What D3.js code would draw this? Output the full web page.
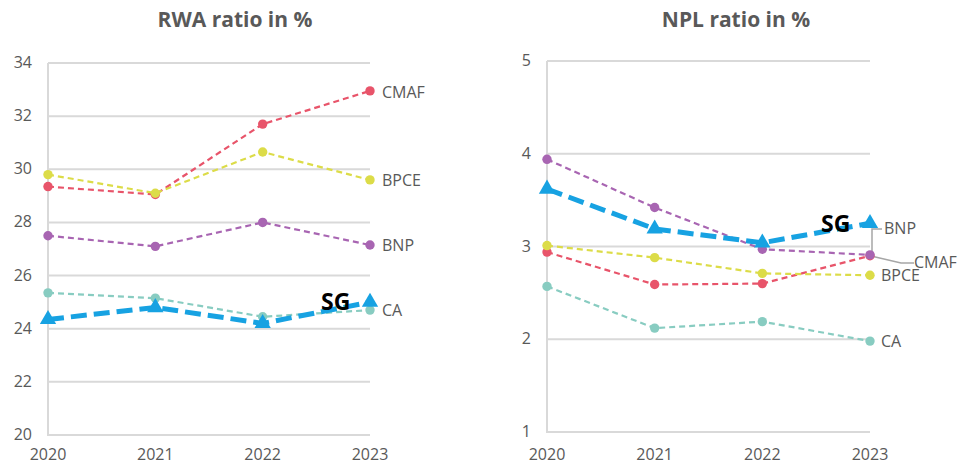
<!DOCTYPE html>
<html>
<head>
<meta charset="utf-8">
<script src="https://cdn.jsdelivr.net/npm/d3@7"></script>
<style>
  body { margin: 0; background: #fff; }
  svg { font-family: "Open Sans", sans-serif; }
</style>
</head>
<body>
<svg id="chart" width="970" height="466"></svg>
<script>
const years = [2020, 2021, 2022, 2023];

const banks = ['CMAF', 'BPCE', 'BNP', 'CA', 'SG'];
const colors = { CMAF: '#e8546a', BPCE: '#dcdc48', BNP: '#a865b2', CA: '#88ccc1', SG: '#17a2e2' };

const rwaCMAF = [29.35, 29.05, 31.7, 32.95];
const rwaBPCE = [29.8, 29.1, 30.65, 29.6];
const rwaBNP = [27.5, 27.1, 28.0, 27.15];
const rwaCA = [25.35, 25.15, 24.45, 24.7];
const rwaSG = [24.35, 24.8, 24.2, 25.0];

const nplCMAF = [2.94, 2.59, 2.6, 2.9];
const nplBPCE = [3.01, 2.88, 2.71, 2.69];
const nplBNP = [3.94, 3.42, 2.97, 2.91];
const nplCA = [2.57, 2.12, 2.19, 1.98];
const nplSG = [3.62, 3.19, 3.04, 3.25];

const rwaTicks = [20, 22, 24, 26, 28, 30, 32, 34];
const nplTicks = [1, 2, 3, 4, 5];

const svg = d3.select('#chart');
const textColor = '#595959';
const gridColor = '#d9d9d9';

function drawPanel(opts) {
    const g = svg.append('g');
    const x = d3.scalePoint().domain(years).range([opts.x0, opts.x1]);
    const y = d3.scaleLinear().domain(opts.domain).range([opts.y0, opts.y1]);

    // title
    g.append('text')
        .attr('x', opts.titleX).attr('y', 27)
        .attr('text-anchor', 'middle')
        .style('font-size', '21px').style('font-weight', 'bold')
        .style('fill', textColor)
        .text(opts.title);

    // gridlines
    g.selectAll('.grid').data(opts.ticks).enter().append('line')
        .attr('x1', opts.x0).attr('x2', opts.x1)
        .attr('y1', d => y(d)).attr('y2', d => y(d))
        .attr('stroke', gridColor).attr('stroke-width', 2);
    g.append('line')
        .attr('x1', opts.x0).attr('x2', opts.x0)
        .attr('y1', y(opts.domain[0]) + 1).attr('y2', y(opts.domain[1]))
        .attr('stroke', gridColor).attr('stroke-width', 2);

    // tick labels
    g.selectAll('.ytick').data(opts.ticks).enter().append('text')
        .attr('x', opts.x0 - 16).attr('y', d => y(d) + 5)
        .attr('text-anchor', 'end')
        .style('font-size', '16px').style('fill', textColor)
        .text(d => d);
    g.selectAll('.xtick').data(years).enter().append('text')
        .attr('x', d => x(d)).attr('y', 460)
        .attr('text-anchor', 'middle')
        .style('font-size', '16px').style('fill', textColor)
        .text(d => d);

    const line = d3.line().x((d, i) => x(years[i])).y(d => y(d));

    // leader lines (drawn under the series)
    (opts.leaders || []).forEach(l => {
        g.append('polyline')
            .attr('points', l(x, y).map(p => p.join(',')).join(' '))
            .attr('fill', 'none').attr('stroke', '#a6a6a6').attr('stroke-width', 1.5);
    });

    banks.filter(b => b !== 'SG').forEach(b => {
        const vals = opts.series[b];
        g.append('path').datum(vals)
            .attr('d', line)
            .attr('fill', 'none')
            .attr('stroke', colors[b]).attr('stroke-width', 2.2)
            .attr('stroke-dasharray', '6,4');
        g.selectAll(null).data(vals).enter().append('circle')
            .attr('cx', (d, i) => x(years[i])).attr('cy', d => y(d))
            .attr('r', 4.7).attr('fill', colors[b]);
    });

    const sg = opts.series.SG;
    g.append('path').datum(sg)
        .attr('d', line)
        .attr('fill', 'none')
        .attr('stroke', colors.SG).attr('stroke-width', 5)
        .attr('stroke-dasharray', '16,7');
    g.selectAll(null).data(sg).enter().append('path')
        .attr('d', d3.symbol().type(d3.symbolTriangle).size(115))
        .attr('transform', (d, i) => `translate(${x(years[i])},${y(d)})`)
        .attr('fill', colors.SG);

    // series labels
    opts.labels.forEach(l => {
        g.append('text')
            .attr('x', l.x).attr('y', l.y)
            .style('font-size', l.bold ? '23px' : '16px')
            .style('font-weight', l.bold ? 'bold' : 'normal')
            .style('fill', l.bold ? '#000' : textColor)
            .text(l.text);
    });
}

drawPanel({
    title: 'RWA ratio in %', titleX: 235,
    x0: 48, x1: 370, y0: 435, y1: 63,
    domain: [20, 34], ticks: rwaTicks,
    series: { CMAF: rwaCMAF, BPCE: rwaBPCE, BNP: rwaBNP, CA: rwaCA, SG: rwaSG },
    labels: [
        { text: 'CMAF', x: 382, y: 98 },
        { text: 'BPCE', x: 382, y: 186 },
        { text: 'BNP', x: 382, y: 251 },
        { text: 'CA', x: 382, y: 316 },
        { text: 'SG', x: 321, y: 310, bold: true }
    ]
});

drawPanel({
    title: 'NPL ratio in %', titleX: 736,
    x0: 547, x1: 870, y0: 432, y1: 61,
    domain: [1, 5], ticks: nplTicks,
    series: { CMAF: nplCMAF, BPCE: nplBPCE, BNP: nplBNP, CA: nplCA, SG: nplSG },
    leaders: [
        (x, y) => [[882, 229], [872, 229], [872, y(nplBNP[3])]],
        (x, y) => [[x(2023), y(nplCMAF[3])], [901, 263], [914, 263]]
    ],
    labels: [
        { text: 'BNP', x: 884, y: 234 },
        { text: 'CMAF', x: 914, y: 268 },
        { text: 'BPCE', x: 881, y: 281 },
        { text: 'CA', x: 881, y: 347 },
        { text: 'SG', x: 821, y: 232, bold: true }
    ]
});
</script>
</body>
</html>
